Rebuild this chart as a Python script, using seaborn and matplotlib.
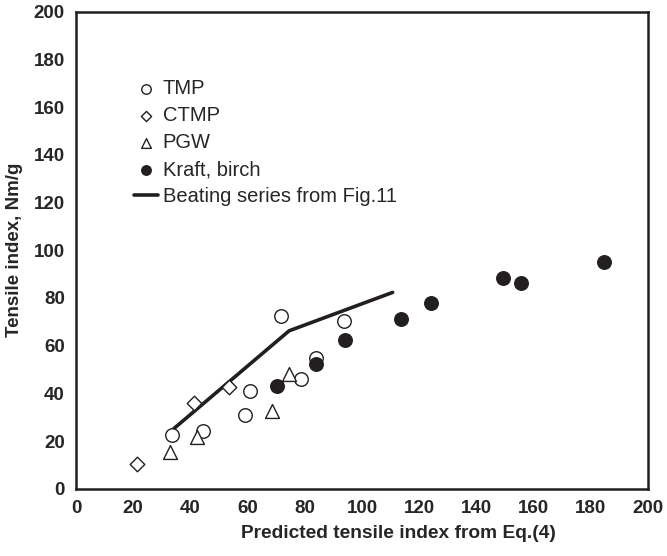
import matplotlib
matplotlib.use("Agg")
import matplotlib.pyplot as plt
import seaborn as sns
import pandas as pd
from matplotlib import font_manager

sns.set_theme(style="white")
fams = {f.name for f in font_manager.fontManager.ttflist}
narrow = "Liberation Sans Narrow" if "Liberation Sans Narrow" in fams else "Liberation Sans"
plt.rcParams['font.family'] = ['Liberation Sans', 'DejaVu Sans']

# Data
tmp_x = [33.5, 44.3, 59.1, 60.9, 71.8, 78.6, 83.8, 93.8]
tmp_y = [22.4, 24.2, 30.9, 41.1, 72.3, 45.9, 54.9, 70.3]
ctmp_x = [21.2, 41.2, 53.5]
ctmp_y = [10.2, 35.8, 42.6]
pgw_x = [32.9, 42.2, 68.4, 74.6]
pgw_y = [15.5, 21.5, 32.7, 47.9]
kraft_x = [70.2, 83.8, 94.1, 113.5, 124.0, 149.2, 155.6, 184.6]
kraft_y = [42.9, 52.1, 62.3, 71.2, 77.7, 88.4, 86.1, 94.9]
beat_x = [34.0, 74.5, 110.7]
beat_y = [25.0, 66.2, 82.3]

xticks = list(range(0, 201, 20))
yticks = list(range(0, 201, 20))

fig = plt.figure(figsize=(6.67, 5.56), dpi=100)
ax = fig.add_axes([0.114, 0.121, 0.8575, 0.858])

kw = dict(s=95, linewidth=1.0, edgecolor="#231f20", ax=ax, zorder=3)
sns.scatterplot(x=tmp_x, y=tmp_y, marker="o", facecolor="white", label="TMP", **kw)
sns.scatterplot(x=ctmp_x, y=ctmp_y, marker="D", facecolor="white", label="CTMP",
                s=55, linewidth=1.0, edgecolor="#231f20", ax=ax, zorder=3)
sns.scatterplot(x=pgw_x, y=pgw_y, marker="^", facecolor="white", label="PGW",
                s=100, linewidth=1.0, edgecolor="#231f20", ax=ax, zorder=3)
sns.scatterplot(x=kraft_x, y=kraft_y, marker="o", color="#231f20", label="Kraft, birch", **kw)
sns.lineplot(x=beat_x, y=beat_y, color="#231f20", linewidth=2.6, ax=ax,
             label="Beating series from Fig.11", zorder=2)

ax.set_xlim(0, 200)
ax.set_ylim(0, 200)
ax.set_xticks(xticks)
ax.set_yticks(yticks)
ax.tick_params(direction="in", length=5, width=0.8, color="#555555",
               pad=8, top=False, right=False)
for lab in ax.get_xticklabels() + ax.get_yticklabels():
    lab.set_fontweight("bold")
    lab.set_fontfamily(narrow)
    lab.set_fontsize(13.5)
for sp in ax.spines.values():
    sp.set_linewidth(1.8)
    sp.set_color("#231f20")

ax.set_xlabel("Predicted tensile index from Eq.(4)", fontsize=13.8, fontweight="bold",
              family=narrow)
ax.xaxis.set_label_coords(0.563, -0.075)
ax.set_ylabel("Tensile index, Nm/g", fontsize=13.5, fontweight="bold",
              family=narrow, labelpad=8)

leg = ax.legend(loc="upper left", bbox_to_anchor=(0.0865, 0.876), frameon=False,
                fontsize=14.5, markerscale=0.7, handlelength=1.2, handletextpad=0.25,
                labelspacing=0.4, borderaxespad=0)

fig.savefig("out.png", dpi=100)
